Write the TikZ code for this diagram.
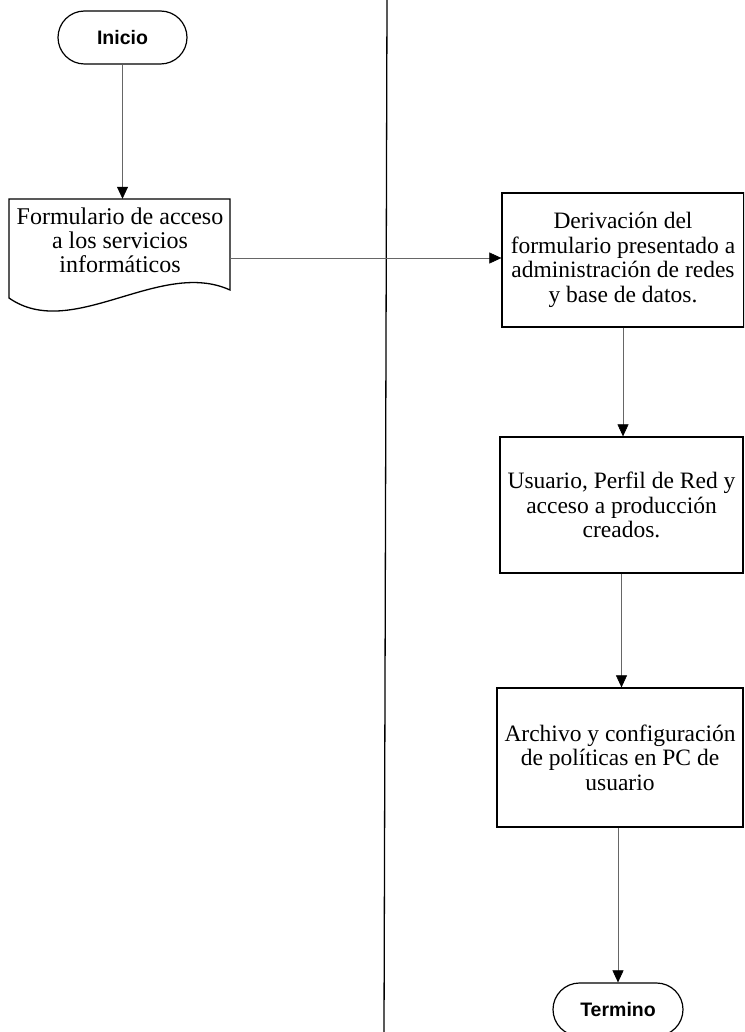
\documentclass[tikz,border=0pt]{standalone}
\usepackage{fontspec}
\setmainfont{Liberation Serif}
\newfontfamily\termfont{Liberation Sans}
\usetikzlibrary{arrows.meta,shapes.misc}
\begin{document}
\begin{tikzpicture}[x=1pt,y=-1pt,
  term/.style={rounded rectangle, draw, line width=1.2pt,
    minimum width=129pt, minimum height=53pt, inner sep=0pt,
    font=\termfont\bfseries\fontsize{19.5}{21}\selectfont},
  procbox/.style={rectangle, draw, line width=1.3pt, align=center,
    inner sep=1pt, font=\fontsize{23.5}{24.5}\selectfont},
  flow/.style={draw=black!60, line width=0.6pt,
    -{Triangle[width=11pt,length=12pt,color=black]}},
  lane/.style={draw=black, line width=1.3pt}]
  % page frame
  \clip (0,0) rectangle (744,1032);
  \fill[white] (0,0) rectangle (744,1032);

  % lane separator
  \coordinate (laneTop) at (387,0);
  \coordinate (laneBot) at (384,1032);
  \draw[lane] (laneTop) -- (laneBot);

  % start / end terminals
  \node[term] (inicio) at (122.5,37.5) {Inicio};
  \node[term, minimum width=130pt] (termino) at (618,1009.5) {Termino};

  % document symbol (form)
  \node[minimum width=221pt, minimum height=118pt, inner sep=0pt] (form) at (119.5,258) {};
  \draw[line width=1.3pt] (9,199) -- (230,199) -- (230,290)
    .. controls (160,258) and (72,342) .. (9,298) -- cycle;
  \node[align=center, font=\fontsize{24}{24}\selectfont] (formtext) at (120,240)
    {Formulario de acceso\\a los servicios\\informáticos};

  % process boxes
  \node[procbox, minimum width=242pt, minimum height=134pt] (deriv) at (623,260)
    {Derivación del\\formulario presentado a\\administración de redes\\y base de datos.};
  \node[procbox, minimum width=243pt, minimum height=136pt] (usuario) at (621.5,505)
    {Usuario, Perfil de Red y\\acceso a producción\\creados.};
  \node[procbox, minimum width=246pt, minimum height=139pt] (archivo) at (620,757.5)
    {Archivo y configuración\\de políticas en PC de\\usuario};

  % connectors
  \draw[flow] (inicio.south) -- (inicio.south |- form.north);
  \draw[flow] (form.east) -- (form.east -| deriv.west);
  \draw[flow] (deriv.south) -- (deriv.south |- usuario.north);
  \draw[flow] (usuario.south) -- (usuario.south |- archivo.north);
  \draw[flow] (termino.north |- archivo.south) -- (termino.north);
\end{tikzpicture}
\end{document}
